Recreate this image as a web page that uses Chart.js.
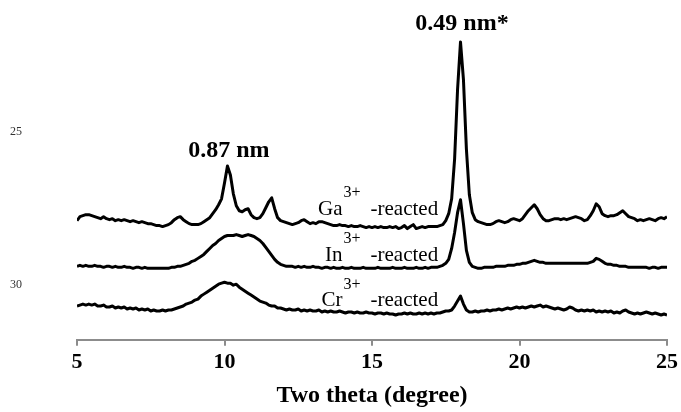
<!DOCTYPE html>
<html>
<head>
<meta charset="utf-8">
<script src="https://cdn.jsdelivr.net/npm/chart.js@4.4.1/dist/chart.umd.min.js"></script>
<style>
  html, body { margin: 0; padding: 0; background: #ffffff; }
  #wrap { width: 681px; height: 412px; }
</style>
</head>
<body>
<div id="wrap"><canvas id="c" width="681" height="412"></canvas></div>
<script>
// ---- data (2θ grid 5–25°, step 0.1°; intensities in arbitrary units, stacked) ----
const twoTheta = Array.from({ length: 201 }, (_, i) => +(5 + i * 0.1).toFixed(1));

const gaReacted = [
  120,124,125,126,126,125,124,123,122,124,
  122,121,122,120,121,120,121,120,119,120,
  119,118,119,118,117,117,116,115,115,114,
  115,116,118,121,123,124,121,119,117,116,
  116,116,117,119,121,123,127,131,136,142,
  158,175,166,147,135,130,129,131,132,126,
  123,122,123,127,133,139,143,132,123,120,
  119,118,117,116,117,118,120,121,119,117,
  118,117,119,119,118,117,116,115,115,116,
  115,115,114,115,114,114,115,114,113,114,
  113,114,113,114,113,113,114,113,114,112,
  113,115,112,114,116,112,113,114,113,114,
  114,114,114,115,116,120,127,142,182,252,
  300,262,192,146,128,121,119,118,117,116,
  116,117,119,120,119,118,119,121,122,121,
  120,122,126,130,133,136,132,126,122,120,
  120,121,122,122,121,122,121,122,123,124,
  123,122,120,121,125,130,137,134,127,125,
  124,125,125,126,128,130,127,124,123,122,
  120,121,120,121,122,121,120,122,123,122,
  124
];

const inReacted = [
  74,75,74,75,74,74,75,74,74,73,
  74,74,73,74,73,73,74,73,73,72,
  73,73,72,73,72,72,72,72,72,72,
  72,72,73,73,74,74,75,76,77,79,
  80,82,84,86,89,92,95,97,100,102,
  104,105,105,105,106,105,104,105,106,105,
  104,102,100,97,93,89,85,81,78,76,
  75,74,74,74,73,74,73,74,73,73,
  74,73,73,72,73,73,72,73,72,72,
  73,72,72,73,72,72,72,73,72,72,
  72,72,73,72,72,72,72,73,72,72,
  72,73,72,72,72,73,72,72,73,72,
  73,73,73,74,75,77,81,92,108,128,
  141,117,90,78,74,73,72,72,73,73,
  73,73,74,74,74,74,75,75,75,76,
  76,77,77,78,79,80,79,78,78,77,
  77,77,77,77,77,77,77,77,77,77,
  77,77,77,77,78,79,82,81,79,77,
  76,76,75,75,74,74,74,73,73,73,
  73,73,73,73,72,73,73,72,73,73,
  73
];

const crReacted = [
  34,35,36,35,36,35,36,34,34,35,
  33,33,34,32,33,32,33,31,32,31,
  32,30,31,30,31,29,30,29,29,30,
  29,30,30,31,32,33,34,36,37,38,
  40,41,44,46,48,50,52,54,56,57,
  58,57,57,55,56,53,51,49,47,45,
  43,41,39,38,37,35,34,34,32,32,
  31,30,31,30,30,31,29,30,29,30,
  29,29,30,28,29,28,29,28,28,29,
  28,27,28,28,27,28,27,27,28,27,
  27,26,27,27,26,27,26,26,25,26,
  26,27,26,27,26,26,27,26,27,26,
  27,26,27,27,28,29,29,30,34,39,
  44,36,30,28,28,29,28,29,29,30,
  29,30,30,31,30,31,32,31,32,33,
  32,33,32,33,34,33,34,35,33,34,
  33,32,31,32,31,30,31,33,32,30,
  29,30,29,30,29,30,28,29,28,29,
  28,29,27,28,27,29,30,28,27,26,
  27,26,27,28,27,26,27,26,25,26,
  25
];

const xTickValues = [5, 10, 15, 20, 25];
const yTickValues = [209, 55];
const yTickLabels = ['25', '30'];
const ions = ['Ga', 'In', 'Cr'];
const peakLabels = ['0.49 nm*', '0.87 nm'];
const xTitle = 'Two theta (degree)';

// ---- chart ----
const SERIF = "'Liberation Serif', 'Times New Roman', 'DejaVu Serif', serif";
const toXY = arr => arr.map((v, i) => ({ x: twoTheta[i], y: v }));

const textPlugin = {
  id: 'textLabels',
  afterDatasetsDraw(chart, args, opts) {
    const { ctx, scales: { x, y } } = chart;
    ctx.save();
    ctx.fillStyle = '#000';
    ctx.textBaseline = 'middle';
    for (const it of opts.items) {
      ctx.font = it.font;
      ctx.textAlign = it.align;
      ctx.fillText(it.text, x.getPixelForValue(it.x), y.getPixelForValue(it.y));
    }
    ctx.restore();
  }
};

const labelFont = '21px ' + SERIF;
const supFont = '16px ' + SERIF;
const peakFont = 'bold 24px ' + SERIF;

const items = [
  { text: peakLabels[0], x: 18.05, y: 318, align: 'center', font: peakFont },
  { text: peakLabels[1], x: 10.15, y: 190, align: 'center', font: peakFont },
  { text: ions[0], x: 14.0, y: 131, align: 'right', font: labelFont },
  { text: '3+', x: 14.03, y: 148, align: 'left', font: supFont },
  { text: '-reacted', x: 14.95, y: 131, align: 'left', font: labelFont },
  { text: ions[1], x: 14.0, y: 85, align: 'right', font: labelFont },
  { text: '3+', x: 14.03, y: 102, align: 'left', font: supFont },
  { text: '-reacted', x: 14.95, y: 85, align: 'left', font: labelFont },
  { text: ions[2], x: 14.0, y: 40, align: 'right', font: labelFont },
  { text: '3+', x: 14.03, y: 55, align: 'left', font: supFont },
  { text: '-reacted', x: 14.95, y: 40, align: 'left', font: labelFont }
];

const lineStyle = { borderColor: '#000', borderWidth: 3, pointRadius: 0, tension: 0, fill: false, borderJoinStyle: 'round' };

new Chart(document.getElementById('c'), {
  type: 'line',
  data: {
    datasets: [
      { label: 'Ga3+-reacted', data: toXY(gaReacted), ...lineStyle },
      { label: 'In3+-reacted', data: toXY(inReacted), ...lineStyle },
      { label: 'Cr3+-reacted', data: toXY(crReacted), ...lineStyle }
    ]
  },
  options: {
    responsive: false,
    animation: false,
    devicePixelRatio: 1,
    layout: { padding: { top: 31, left: 10, right: 14, bottom: 0 } },
    plugins: {
      legend: { display: false },
      tooltip: { enabled: false },
      textLabels: { items }
    },
    scales: {
      x: {
        type: 'linear',
        min: 5, max: 25,
        afterBuildTicks: s => { s.ticks = xTickValues.map(v => ({ value: v })); },
        grid: { display: true, drawOnChartArea: false, drawTicks: true, tickLength: 6, color: '#8c8c8c', lineWidth: 2 },
        border: { display: true, color: '#8c8c8c', width: 2 },
        ticks: { color: '#000', font: { family: SERIF, size: 22, weight: 'bold' }, padding: 3, maxRotation: 0 },
        title: { display: true, text: xTitle, color: '#000', font: { family: SERIF, size: 24, weight: 'bold' }, padding: { top: 3, bottom: 2 } }
      },
      y: {
        type: 'linear',
        min: 0, max: 311,
        afterBuildTicks: s => { s.ticks = yTickValues.map(v => ({ value: v })); },
        afterFit: s => { s.width = 67; },
        grid: { display: false },
        border: { display: false },
        ticks: {
          crossAlign: 'far',
          color: '#333',
          font: { family: SERIF, size: 12 },
          callback: (v, i) => yTickLabels[i]
        }
      }
    }
  },
  plugins: [textPlugin]
});
</script>
</body>
</html>
